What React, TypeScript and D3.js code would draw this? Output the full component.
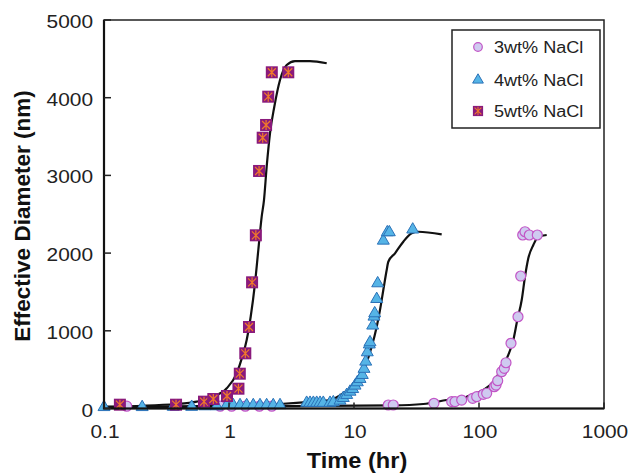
import * as d3 from 'd3';
import React from 'react';
import { useRef, useEffect } from 'react';

// measured points [time (hr), effective diameter (nm)]
const nacl3Points: [number, number][] = [
  [0.152, 30], [0.85, 30], [1.05, 30], [1.35, 30], [1.75, 30], [2.2, 30],
  [18.8, 45], [20.6, 45], [43.6, 67], [60.5, 88], [64.3, 88], [72.7, 109],
  [89.0, 131], [95.8, 152], [108.2, 183], [115.2, 196], [132.6, 281], [136.8, 302],
  [141.1, 358], [151.9, 474], [159.4, 517], [164.4, 589], [180.3, 839], [205.1, 1181],
  [215.6, 1705], [223.7, 2233], [233.3, 2275], [252.6, 2233], [292.7, 2233],
];

const nacl4Points: [number, number][] = [
  [0.1, 5], [0.202, 5], [0.358, 8], [0.503, 8], [0.643, 15], [0.797, 15],
  [0.959, 30], [1.082, 30], [1.225, 30], [1.385, 30], [1.564, 30], [1.77, 30],
  [2.0, 30], [2.26, 30], [2.56, 30], [4.18, 60], [4.45, 60], [4.73, 60],
  [5.03, 60], [5.35, 60], [5.68, 60], [6.43, 60], [6.83, 67], [7.73, 88],
  [8.21, 122], [8.74, 161], [9.29, 203], [9.76, 237], [10.19, 281], [10.63, 324],
  [11.17, 367], [11.65, 418], [12.02, 497], [12.41, 590], [12.77, 710], [13.26, 811],
  [13.43, 839], [14.11, 1054], [14.45, 1169], [14.64, 1212], [15.19, 1396], [15.47, 1598],
  [17.16, 2147], [18.47, 2255], [19.17, 2255], [29.5, 2290],
];

const nacl5Points: [number, number][] = [
  [0.134, 49], [0.377, 49], [0.631, 88], [0.749, 122], [0.964, 161], [1.19, 255],
  [1.22, 448], [1.35, 710], [1.445, 1049], [1.53, 1624], [1.64, 2229], [1.74, 3057],
  [1.86, 3485], [1.98, 3649], [2.06, 4013], [2.2, 4327], [2.98, 4327],
];

// fitted curves
const nacl3Fit: [number, number][] = [
  [0.1, 13], [20.6, 39], [35.8, 58], [55.1, 109], [79.7, 152], [108.2, 238],
  [130.2, 345], [151.9, 517], [171.6, 689], [188.2, 882], [202.5, 1139], [219.6, 1396],
  [233.3, 1696], [248, 1933], [272, 2104], [298, 2211], [348, 2233],
];

const nacl4Fit: [number, number][] = [
  [0.1, 19], [0.586, 32], [2.56, 58], [4.73, 88], [6.43, 109], [8.21, 196],
  [10.51, 345], [12.25, 538], [13.85, 795], [15.19, 1053], [16.14, 1268], [17.16, 1525],
  [18.26, 1782], [18.81, 1889], [21.28, 1997], [24.8, 2147], [28.95, 2255], [32.7, 2275],
  [50.3, 2242],
];

const nacl5Fit: [number, number][] = [
  [0.1, 23], [0.381, 58], [0.552, 88], [0.749, 152], [0.959, 260], [1.152, 453],
  [1.278, 667], [1.385, 882], [1.491, 1181], [1.614, 1611], [1.716, 2040], [1.826, 2468],
  [1.905, 2683], [2.002, 3112], [2.128, 3542], [2.304, 3884], [2.559, 4228], [2.894, 4421],
  [3.373, 4472], [4.446, 4472], [6.05, 4443],
];

const xTicks = [0.1, 1, 10, 100, 1000];
const yTicks = [0, 1000, 2000, 3000, 4000, 5000];
const legendLabels = ['3wt% NaCl', '4wt% NaCl', '5wt% NaCl'];

const width = 628;
const height = 473;
const margin = { top: 20, right: 24, bottom: 64, left: 104 };
const font = '"Liberation Sans", Arial, Helvetica, sans-serif';
const stretch = 1.13; // the source glyphs are a little wide

type G = d3.Selection<SVGGElement, unknown, null, undefined>;

export default function App() {
  const svgRef = useRef<SVGSVGElement | null>(null);

  useEffect(() => {
    if (!svgRef.current) return;
    const svg = d3.select(svgRef.current);
    svg.selectAll('*').remove();

    const x = d3
      .scaleLog()
      .domain([0.1, 1000])
      .range([margin.left, width - margin.right]);
    const y = d3
      .scaleLinear()
      .domain([0, 5000])
      .range([height - margin.bottom - 0.5, margin.top]);

    const line = d3
      .line<[number, number]>()
      .x((d) => x(d[0]))
      .y((d) => y(d[1]))
      .curve(d3.curveMonotoneX);

    const wideText = (g: G, px: number, py: number, size: number, anchor: string, label: string) =>
      g
        .append('text')
        .attr('transform', `translate(${px},${py}) scale(${stretch},1)`)
        .attr('text-anchor', anchor)
        .attr('font-family', font)
        .attr('font-size', size)
        .attr('fill', '#222')
        .text(label);

    // fitted curves
    [nacl3Fit, nacl4Fit, nacl5Fit].forEach((fit) => {
      svg
        .append('path')
        .attr('d', line(fit))
        .attr('fill', 'none')
        .attr('stroke', '#111')
        .attr('stroke-width', 2.2);
    });

    // 3wt% circles
    svg
      .append('g')
      .selectAll('circle')
      .data(nacl3Points)
      .join('circle')
      .attr('cx', (d) => x(d[0]))
      .attr('cy', (d) => y(d[1]))
      .attr('r', 5)
      .attr('fill', '#cfcaf0')
      .attr('stroke', '#c255c6')
      .attr('stroke-width', 1.2);

    // 4wt% triangles
    const tri = d3.symbol().type(d3.symbolTriangle).size(62);
    svg
      .append('g')
      .selectAll('path')
      .data(nacl4Points)
      .join('path')
      .attr('transform', (d) => `translate(${x(d[0])},${y(d[1]) - 1})`)
      .attr('d', tri)
      .attr('fill', '#55b4e6')
      .attr('stroke', '#2b72b8')
      .attr('stroke-width', 1);

    // 5wt% squares with asterisk
    const drawSquare = (g: G) => {
      g.append('rect')
        .attr('x', -6)
        .attr('y', -6)
        .attr('width', 12)
        .attr('height', 12)
        .attr('fill', '#8a1a7c');
      g.append('path')
        .attr('d', 'M-4,-4L4,4M-4,4L4,-4M0,-5L0,5')
        .attr('stroke', '#f07a2a')
        .attr('stroke-width', 1.2);
    };
    nacl5Points.forEach((d) => {
      const g = svg.append('g').attr('transform', `translate(${x(d[0])},${y(d[1])})`);
      drawSquare(g);
    });

    // frame
    svg
      .append('rect')
      .attr('x', margin.left)
      .attr('y', margin.top)
      .attr('width', width - margin.left - margin.right)
      .attr('height', y(0) - margin.top)
      .attr('fill', 'none')
      .attr('stroke', '#222')
      .attr('stroke-width', 1.5);
    svg
      .append('path')
      .attr('d', `M${margin.left},${margin.top}V${y(0)}H${width - margin.right}`)
      .attr('fill', 'none')
      .attr('stroke', '#111')
      .attr('stroke-width', 2.2);

    // y ticks
    const yAxis = svg.append('g') as unknown as G;
    yTicks.forEach((t) => {
      yAxis
        .append('line')
        .attr('x1', margin.left)
        .attr('x2', margin.left + 7)
        .attr('y1', y(t))
        .attr('y2', y(t))
        .attr('stroke', '#222')
        .attr('stroke-width', 1.5);
      wideText(yAxis, margin.left - 11, y(t) + 8, 18.5, 'end', String(t));
    });

    // x ticks
    const xAxis = svg.append('g') as unknown as G;
    xTicks.forEach((t) => {
      xAxis
        .append('line')
        .attr('x1', x(t))
        .attr('x2', x(t))
        .attr('y1', y(0))
        .attr('y2', y(0) - 6)
        .attr('stroke', '#222')
        .attr('stroke-width', 1.5);
      wideText(xAxis, x(t) + 1, y(0) + 29.5, 18.5, 'middle', String(t));
    });

    svg
      .append('text')
      .attr('transform', `translate(357,468) scale(1.05,1)`)
      .attr('text-anchor', 'middle')
      .attr('font-family', font)
      .attr('font-weight', 'bold')
      .attr('font-size', 22.5)
      .attr('fill', '#111')
      .text('Time (hr)');

    svg
      .append('text')
      .attr('transform', `translate(30,216) rotate(-90)`)
      .attr('text-anchor', 'middle')
      .attr('font-family', font)
      .attr('font-weight', 'bold')
      .attr('font-size', 22.5)
      .attr('fill', '#111')
      .text('Effective Diameter (nm)');

    // legend
    const lg = svg.append('g') as unknown as G;
    lg.append('rect')
      .attr('x', 452)
      .attr('y', 30)
      .attr('width', 148)
      .attr('height', 98)
      .attr('fill', '#fff')
      .attr('stroke', '#222')
      .attr('stroke-width', 1.5);
    const rowY = [47, 80, 111];
    legendLabels.forEach((label, i) => {
      const cy = rowY[i];
      if (i === 0) {
        lg.append('circle')
          .attr('cx', 478)
          .attr('cy', cy)
          .attr('r', 4.3)
          .attr('fill', '#cfcaf0')
          .attr('stroke', '#c255c6')
          .attr('stroke-width', 1.2);
      } else if (i === 1) {
        lg.append('path')
          .attr('transform', `translate(478,${cy})`)
          .attr('d', d3.symbol().type(d3.symbolTriangle).size(50)())
          .attr('fill', '#55b4e6')
          .attr('stroke', '#2b72b8');
      } else {
        const g = lg.append('g').attr('transform', `translate(478,${cy}) scale(0.85)`) as unknown as G;
        drawSquare(g);
      }
      wideText(lg, 494, cy + 6, 16, 'start', label);
    });
  }, []);

  return (
    <div style={{ position: 'absolute', left: 0, top: 0, background: '#fff' }}>
      <svg ref={svgRef} width={width} height={height} />
    </div>
  );
}
